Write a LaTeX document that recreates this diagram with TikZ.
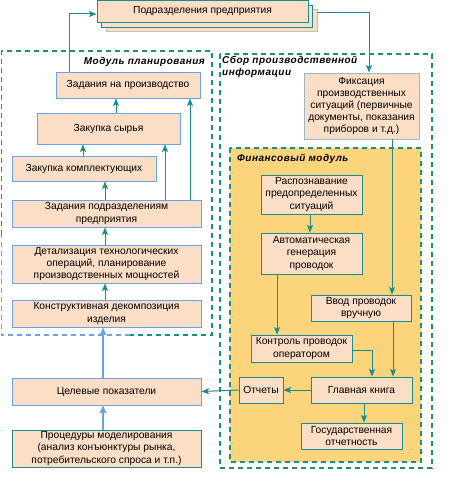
\documentclass[tikz,border=0pt]{standalone}
\usepackage{fontspec}
\setmainfont{Liberation Sans}
\usetikzlibrary{arrows.meta}
\definecolor{tealc}{HTML}{1A8C8C}
\definecolor{bluec}{HTML}{6AA2EC}
\definecolor{peach}{HTML}{FCDEC6}
\definecolor{yellowc}{HTML}{FBD47C}
\definecolor{lightb}{HTML}{9BB8C8}
\tikzset{
  box/.style={draw=tealc, fill=peach, line width=0.9bp, inner sep=1bp, align=center,
    font=\fontsize{10.3}{12.2}\selectfont},
  bbox/.style={box, draw=bluec},
  fbox/.style={box, draw=lightb},
  conn/.style={draw=tealc, line width=1bp, -{Stealth[length=7.5bp,width=6bp,inset=1.5bp]}},
  bconn/.style={draw=bluec, line width=2bp, -{Stealth[length=8bp,width=7bp,inset=1.5bp]}},
  lab/.style={font=\fontsize{10}{12}\selectfont\bfseries\itshape\addfontfeatures{LetterSpace=5}, inner sep=0pt, align=left},
  dashT/.style={draw=tealc, line width=1.6bp, dash pattern=on 5bp off 4bp},
  dashB/.style={draw=bluec, line width=1.6bp, dash pattern=on 5bp off 4bp},
}
\begin{document}
\begin{tikzpicture}[x=1bp,y=-1bp]
\useasboundingbox (0,0) rectangle (450,484);
% regions
\draw[dashT] (1.5,235) -- (1.5,51) -- (212,51) -- (212,335) -- (130,335);
\draw[dashB] (130,335) -- (1.5,335) -- (1.5,235);
\draw[dashT] (220,54) rectangle (432,468);
\fill[yellowc] (230,148) rectangle (421,462);
\draw[dashT] (230,148) rectangle (421,462);
% labels
\node[lab, anchor=base east] (lplan) at (205,65) {Модуль планирования};
\node[lab, anchor=north west] (lsbor) at (222,56) {Сбор производственной\\информации};
\node[lab, anchor=base west] (lfin) at (237,162) {Финансовый модуль};
% top stacked box
\node[box, draw=peach!70!tealc, minimum width=211bp, minimum height=22bp] (top3) at (211.5,20) {};
\node[box, minimum width=211bp, minimum height=22bp] (top2) at (207,16) {};
\node[box, minimum width=211bp, minimum height=22bp] (top) at (202.5,11.5) {Подразделения предприятия};
% planning module
\node[bbox, minimum width=144bp, minimum height=26bp] (zadprod) at (128,85) {Задания на производство};
\node[bbox, minimum width=143bp, minimum height=31bp] (syrye) at (108.5,128.5) {Закупка сырья};
\node[bbox, minimum width=144bp, minimum height=25bp] (kompl) at (84,168.5) {Закупка комплектующих};
\node[bbox, minimum width=189bp, minimum height=27bp] (zadpodr) at (106.5,213.5) {Задания подразделениям\\предприятия};
\node[bbox, minimum width=189bp, minimum height=38bp] (detal) at (106.5,264) {Детализация технологических\\операций, планирование\\производственных мощностей};
\node[bbox, minimum width=189bp, minimum height=27bp] (konstr) at (106.5,313.5) {Конструктивная декомпозиция\\изделия};
\node[bbox, minimum width=189bp, minimum height=27bp] (celev) at (106.5,391.5) {Целевые показатели};
\node[box, minimum width=189bp, minimum height=37bp] (proc) at (106.5,448.5) {Процедуры моделирования\\(анализ конъюнктуры рынка,\\потребительского спроса и т.п.)};
% right side
\node[fbox, minimum width=115bp, minimum height=66bp] (fiks) at (361.5,106) {Фиксация\\производственных\\ситуаций (первичные\\документы, показания\\приборов и т.д.)};
\node[box, minimum width=101bp, minimum height=39bp] (raspozn) at (311.5,194.5) {Распознавание\\предопределенных\\ситуаций};
\node[box, minimum width=101bp, minimum height=41bp] (avto) at (311.5,253.5) {Автоматическая\\генерация\\проводок};
\node[box, minimum width=100bp, minimum height=26bp] (vvod) at (361,308) {Ввод проводок\\вручную};
\node[box, minimum width=101bp, minimum height=27bp] (kontrol) at (301.5,348.5) {Контроль проводок\\оператором};
\node[box, minimum width=101bp, minimum height=26bp] (glavn) at (361.5,390) {Главная книга};
\node[box, minimum width=44bp, minimum height=26bp] (otch) at (261,390) {Отчеты};
\node[box, minimum width=101bp, minimum height=26bp] (gos) at (351.5,436) {Государственная\\отчетность};
% connectors
\draw[conn] (zadprod.north -| 69,0) |- (top.west |- 0,14);
\draw[conn] (top3.east |- 0,13) -| (fiks.north -| 369,0);
\draw[conn] (syrye.north -| 116,0) -- (zadprod.south -| 116,0);
\draw[conn] (zadpodr.north -| 190,0) -- (zadprod.south -| 190,0);
\draw[conn] (kompl.north -| 83,0) -- (syrye.south -| 83,0);
\draw[conn] (zadpodr.north -| 165,0) -- (syrye.south -| 165,0);
\draw[conn] (zadpodr.north -| 105,0) -- (kompl.south -| 105,0);
\draw[conn] (detal.north -| 105,0) -- (zadpodr.south -| 105,0);
\draw[conn] (konstr.north -| 105,0) -- (detal.south -| 105,0);
\draw[bconn] (celev.north -| 103,0) -- (konstr.south -| 103,0);
\draw[bconn] (proc.north -| 103,0) -- (celev.south -| 103,0);
\draw[conn] (fiks.south -| 392,0) -- (vvod.north -| 392,0);
\draw[conn] (raspozn.south -| 310,0) -- (avto.north -| 310,0);
\draw[conn] (avto.south -| 277,0) -- (kontrol.north -| 277,0);
\draw[conn] (kontrol.east |- 0,350) -| (glavn.north -| 372,0);
\draw[conn] (vvod.south -| 393,0) -- (glavn.north -| 393,0);
\draw[conn] (glavn.west) -- (otch.east);
\draw[conn] (otch.west) -- (celev.east);
\draw[conn] (glavn.south -| 364,0) -- (gos.north -| 364,0);
\end{tikzpicture}
\end{document}
